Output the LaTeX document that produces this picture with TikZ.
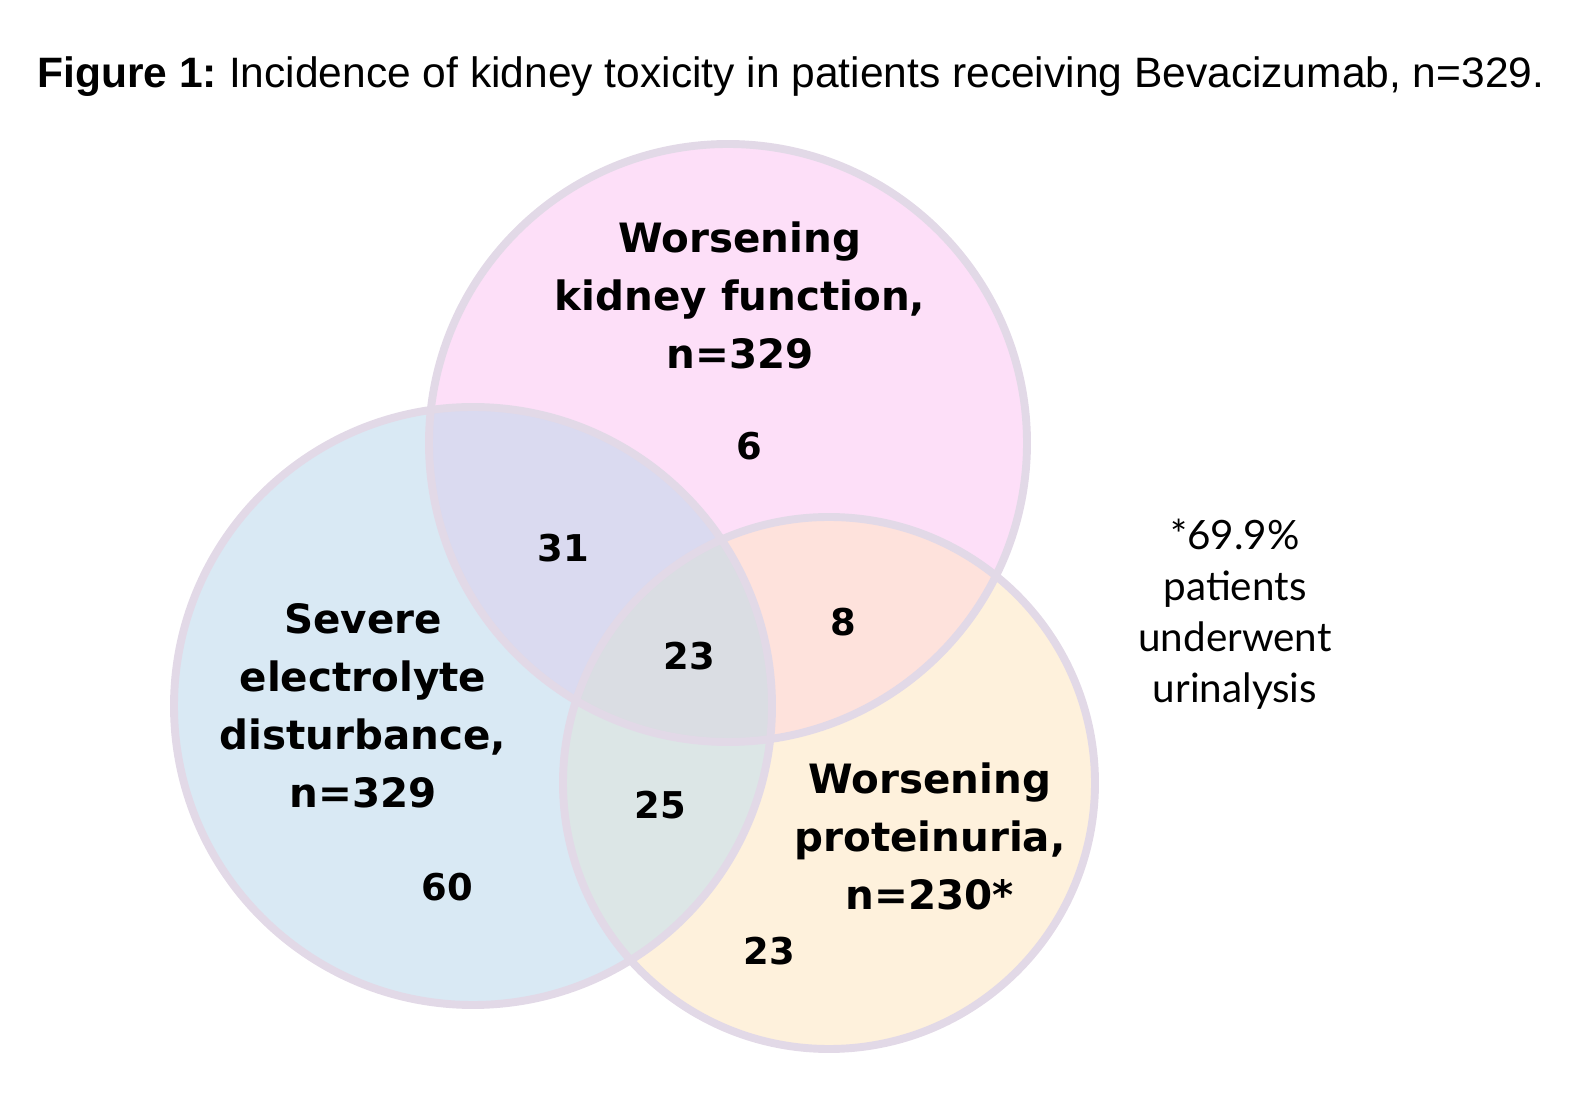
\documentclass[tikz,border=0pt]{standalone}
\usepackage{fontspec}
\setmainfont{Liberation Sans}
\newfontfamily\labelfont{DejaVu Sans}
\newfontfamily\notefont{Lato}

\definecolor{kidneypink}{HTML}{FDDFF8}
\definecolor{electroblue}{HTML}{D9E9F4}
\definecolor{proteinyellow}{HTML}{FEF1DC}
\definecolor{kidneyelectro}{HTML}{DADAF0}
\definecolor{kidneyprotein}{HTML}{FEE2DC}
\definecolor{electroprotein}{HTML}{DCE6E6}
\definecolor{allthree}{HTML}{DADDE3}
\definecolor{ringgray}{HTML}{E2D9E7}

\begin{document}
\begin{tikzpicture}[x=0.02cm, y=-0.02cm,
  setring/.style={draw=ringgray, line width=4.5pt},
  setlabel/.style={font=\labelfont\bfseries\fontsize{23}{33}\selectfont, align=center, inner sep=0pt},
  count/.style={font=\labelfont\bfseries\fontsize{21}{26}\selectfont, inner sep=0pt}]
\useasboundingbox (0,0) rectangle (1570,1097);

% Set the centres and radii of the three sets
\coordinate (kidney) at (728,443);
\coordinate (electro) at (473,706);
\coordinate (protein) at (829,783);
\def\rkid{299}
\def\rele{299}
\def\rpro{266}

% Fill the single sets
\fill[kidneypink] (kidney) circle (\rkid);
\fill[electroblue] (electro) circle (\rele);
\fill[proteinyellow] (protein) circle (\rpro);

% Fill the overlaps
\begin{scope}
  \clip (kidney) circle (\rkid);
  \fill[kidneyelectro] (electro) circle (\rele);
  \fill[kidneyprotein] (protein) circle (\rpro);
\end{scope}
\begin{scope}
  \clip (electro) circle (\rele);
  \fill[electroprotein] (protein) circle (\rpro);
  \clip (kidney) circle (\rkid);
  \fill[allthree] (protein) circle (\rpro);
\end{scope}

% Draw the rings
\draw[setring] (kidney) circle (\rkid);
\draw[setring] (electro) circle (\rele);
\draw[setring] (protein) circle (\rpro);

% Title
\node[anchor=west, inner sep=0pt, font=\fontsize{24.2}{30}\selectfont] (title) at (37,77)
  {\textbf{Figure 1:}\hspace{-2pt} Incidence of kidney toxicity in patients receiving Bevacizumab, n=329.};

% Set labels
\node[setlabel] (kidneylabel) at (740,295) {Worsening\\kidney function,\\n=329};
\node[setlabel] (electrolabel) at (363,706) {Severe\\electrolyte\\disturbance,\\n=329};
\node[setlabel] (proteinlabel) at (930,836) {Worsening\\proteinuria,\\n=230*};

% Counts
\node[count] (kidneyonly) at (749,446) {6};
\node[count] (kidelec) at (563,548) {31};
\node[count] (centre) at (689,656) {23};
\node[count] (kidprot) at (843,622) {8};
\node[count] (elecprot) at (660,805) {25};
\node[count] (electroonly) at (447,887) {60};
\node[count] (proteinonly) at (769,951) {23};

% Note
\node[align=center, inner sep=0pt, font=\notefont\fontsize{23}{29}\selectfont] (note) at (1235,614)
  {*69.9\%\\patients\\underwent\\urinalysis};
\end{tikzpicture}
\end{document}
